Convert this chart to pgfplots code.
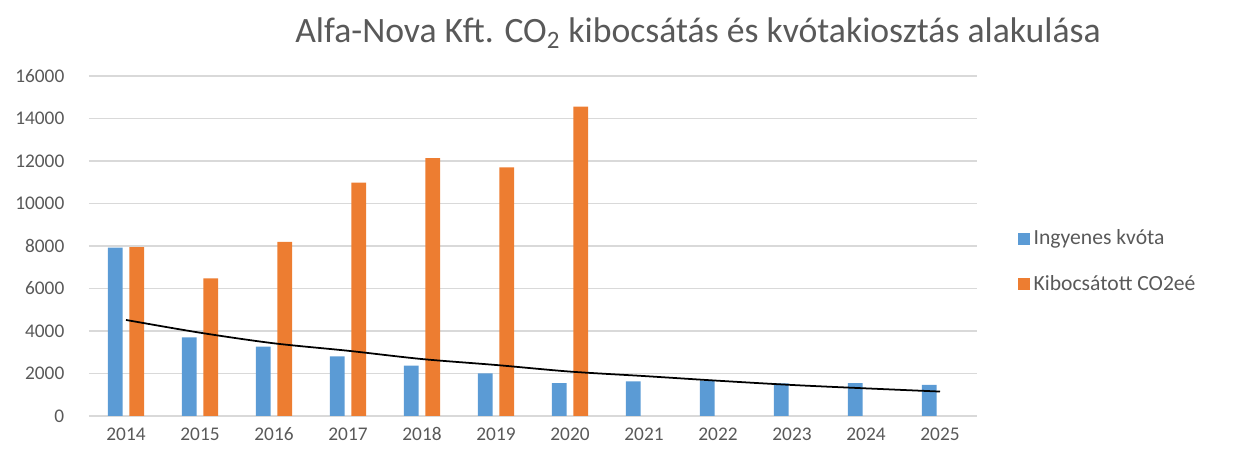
\documentclass[border=0pt]{standalone}
\usepackage{fontspec}
\setmainfont{Carlito}
\usepackage{pgfplots}
\pgfplotsset{compat=1.18}
\definecolor{kblue}{HTML}{5B9BD5}
\definecolor{korange}{HTML}{ED7D31}
\definecolor{txtgray}{HTML}{595959}
\definecolor{gridgray}{HTML}{D9D9D9}

\begin{document}
\begin{tikzpicture}
% page = 1233 x 452 px, 1 px = 0.02 cm; plot area corner at the origin
\path[use as bounding box] (-1.78cm,-0.72cm) rectangle (22.88cm,8.32cm);
\begin{axis}[
  at={(0,0)}, anchor=south west,
  scale only axis,
  width=17.76cm, height=6.8cm,
  xmin=-0.5, xmax=11.5,
  ymin=0, ymax=16000,
  xtick={0,...,11},
  xticklabels={2014,2015,2016,2017,2018,2019,2020,2021,2022,2023,2024,2025},
  ytick={0,2000,...,16000},
  scaled y ticks=false,
  ymajorgrids,
  grid style={draw=gridgray, line width=0.8pt},
  axis x line*=bottom,
  axis y line*=left,
  y axis line style={draw=none},
  x axis line style={draw=gridgray, line width=0.8pt, -},
  major tick length=0pt,
  tick label style={font=\fontsize{11}{13}\selectfont, text=txtgray},
  xticklabel style={text height=1.6ex, text depth=0.3ex, yshift=-0.1cm},
  yticklabel style={xshift=-0.37cm},
  /pgf/number format/1000 sep={},
  /pgf/number format/assume math mode=true,
  ybar, bar width=0.2,
  legend style={at={(1.04,0.454)}, anchor=west, draw=none, fill=none,
    font=\fontsize{12.3}{14}\selectfont, text=txtgray, row sep=0.42cm},
  legend cell align=left,
  legend image code/.code={\fill[#1] (0cm,-0.12cm) rectangle (0.24cm,0.12cm);},
]
\addplot[fill=kblue, draw=none, bar shift=-0.145] coordinates {
  (0,7920) (1,3700) (2,3260) (3,2810) (4,2370) (5,2010)
  (6,1550) (7,1630) (8,1660) (9,1540) (10,1550) (11,1460)};
\addlegendentry{Ingyenes kvóta}
\addplot[fill=korange, draw=none, bar shift=0.145] coordinates {
  (0,7950) (1,6480) (2,8190) (3,10980) (4,12140) (5,11700) (6,14560)};
\addlegendentry{Kibocsátott CO2eé}
% trend line of the free allowance
\addplot[sharp plot, black, line width=1pt, forget plot, smooth] coordinates {
  (0,4520) (1,3920) (2,3420) (3,3070) (4,2680) (5,2400)
  (6,2090) (7,1880) (8,1660) (9,1460) (10,1300) (11,1150)};
\end{axis}
\node[text=txtgray, font=\fontsize{20.3}{24}\selectfont] at (12.18cm,7.66cm)
  {Alfa-Nova Kft. CO\textsubscript{2} kibocsátás és kvótakiosztás alakulása};
\end{tikzpicture}
\end{document}
